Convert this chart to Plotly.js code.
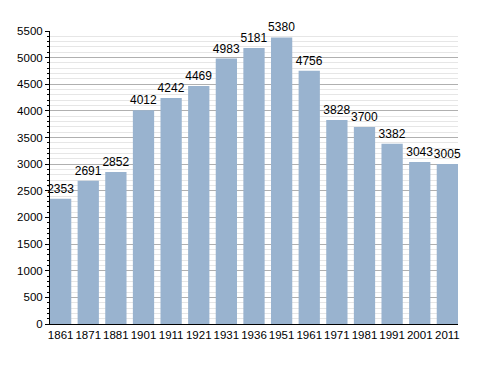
<!DOCTYPE html>
<html><head><meta charset="utf-8">
<script src="https://cdn.plot.ly/plotly-3.0.1.min.js"></script>
<style>body{margin:0;background:#fff}#c{width:488px;height:373px}</style>
</head><body><div id="c"></div>
<script>
const years = ["1861","1871","1881","1901","1911","1921","1931","1936","1951","1961","1971","1981","1991","2001","2011"];
const population = [2353,2691,2852,4012,4242,4469,4983,5181,5380,4756,3828,3700,3382,3043,3005];
const barW = 0.77;

Plotly.newPlot('c', [{
  type: 'bar', x: years, y: population, width: barW,
  marker: {color: '#99b3cf'},
  text: population.map(String), textposition: 'outside', cliponaxis: false, constraintext: 'none',
  textfont: {family: 'Liberation Sans, Arial, sans-serif', size: 12, color: '#000'}
}], {
  width: 488, height: 373,
  margin: {l: 50, r: 30, t: 31, b: 49},
  paper_bgcolor: '#fff', plot_bgcolor: '#fff',
  showlegend: false,
  font: {family: 'Liberation Sans, Arial, sans-serif', size: 11, color: '#000'},
  xaxis: {type: 'category', range: [-barW/2, years.length - 1 + barW/2], showline: true, linecolor: '#000', linewidth: 1, ticks: '', showgrid: false, tickfont: {size: 11.5}},
  yaxis: {range: [0, 5500], dtick: 500, showline: true, linecolor: '#000', linewidth: 1,
    ticks: 'outside', ticklen: 4, tickcolor: '#000', gridcolor: '#b0b0b0', zeroline: false,
    minor: {dtick: 100, ticks: 'outside', ticklen: 2, tickcolor: '#000', showgrid: true, gridcolor: '#e6e6e6'},
    tickfont: {size: 11.5}}
}, {displayModeBar: false, staticPlot: true});
</script></body></html>
